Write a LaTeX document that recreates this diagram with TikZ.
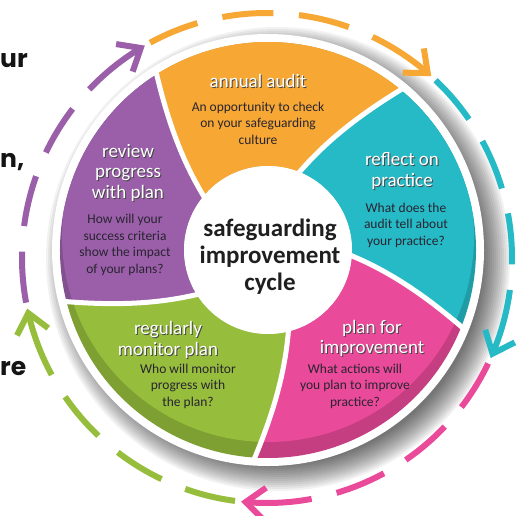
\documentclass[tikz,border=0pt]{standalone}
\usepackage{fontspec}
\setmainfont{Carlito}
\newfontfamily\popp{Poppins}
\definecolor{cOr}{RGB}{246,167,52}
\definecolor{cPu}{RGB}{155,95,170}
\definecolor{cCy}{RGB}{38,186,198}
\definecolor{cPi}{RGB}{234,74,154}
\definecolor{cGr}{RGB}{150,189,60}
\definecolor{bodyc}{RGB}{40,36,48}
\definecolor{shdc}{RGB}{70,70,70}
\newcommand\sh[1]{\makebox[0pt][l]{\kern1pt\raisebox{-1pt}{\textcolor{shdc}{#1}}}#1}
\newcommand\segpath[2]{({#1+17}:84) .. controls ({#1+12}:125) and ({#1+5.5}:166) .. (#1:208)
  arc[start angle=#1, end angle=#2, radius=208]
  .. controls ({#2+5.5}:166) and ({#2+12}:125) .. ({#2+17}:84)
  arc[start angle={#2+17}, end angle={#1+17}, radius=84] -- cycle}
\begin{document}
\begin{tikzpicture}[x=1pt,y=1pt,
  head/.style={font=\fontsize{19}{20.5}\selectfont, align=center, text=white, inner sep=0},
  body/.style={font=\fontsize{13.5}{16.5}\selectfont, align=center, text=bodyc, inner sep=0},
  frag/.style={font=\popp\bfseries\fontsize{25}{27}\selectfont, text=black!92, inner sep=0, anchor=base west},
  dashpiece/.style={line width=6pt, line cap=butt},
  gap/.style={white, line width=5pt}]
\useasboundingbox (0,0) rectangle (526,515);
\fill[white] (0,0) rectangle (526,515);

% left text fragments
\node[frag] (f1) at (0,447) {ur};
\node[frag] (f2) at (0,348) {n,};
\node[frag] (f3) at (0,140) {re};

% shadow of the wheel
\foreach \r in {206,208,...,232}
  \fill[black, opacity=0.05] (278,256) circle (\r);
\fill[white] (268,265) circle (216);

% segments
\begin{scope}[shift={(268,265)}]
  \foreach \a/\b/\c in {122/50/cOr, 50/-22/cCy, -22/-94/cPi, -94/-166/cGr, -166/-238/cPu} {
    \begin{scope}
      \clip \segpath{\a}{\b};
      \fill[\c!84!black] (0,0) circle (212);
      \fill[\c] (0,14) circle (206);
    \end{scope}
  }
  \foreach \a in {122,50,-22,-94,-166}
    \draw[gap] ({\a+19}:80) .. controls ({\a+12}:125) and ({\a+5.5}:166) .. (\a:212);
  \fill[white] (0,0) circle (84);
\end{scope}

% dashed ring with arrows
\begin{scope}[shift={(267,257)}]
  \foreach \t/\c in {121/cPu, 49/cOr, -23/cCy, -95/cPi, -167/cGr} {
    \pgfmathsetmacro\s{\t+69.5}
    \draw[dashpiece, \c] (\s:245) arc[start angle=\s, end angle=\s-12, radius=245];
    \draw[dashpiece, \c] (\s-18:245) arc[start angle=\s-18, end angle=\s-30, radius=245];
    \draw[dashpiece, \c] (\s-36:245) arc[start angle=\s-36, end angle=\s-48, radius=245];
    \draw[dashpiece, \c] (\s-54:245) arc[start angle=\s-54, end angle=\t, radius=245];
    \draw[dashpiece, \c, line join=miter] (\t:245) ++({\t+130}:25) -- (\t:245) -- ++({\t+50}:25);
  }
\end{scope}

% headings
\node[head] (h1) at (258,434) {\sh{annual audit}};
\node[head] (h2) at (128,342) {\sh{review}\\\sh{progress}\\\sh{with plan}};
\node[head] (h3) at (402,343.5) {\sh{reflect on}\\\sh{practice}};
\node[head] (h4) at (372,176) {\sh{plan for}\\\sh{improvement}};
\node[head] (h5) at (168,174.5) {\sh{regularly}\\\sh{monitor plan}};

% body texts
\node[body] (b1) at (258,392) {An opportunity to check\\on your safeguarding\\culture};
\node[body] (b2) at (125,270) {How will your\\success criteria\\show the impact\\of your plans?};
\node[body] (b3) at (406,290) {What does the\\audit tell about\\your practice?};
\node[body] (b4) at (355,129) {What actions will\\you plan to improve\\practice?};
\node[body] (b5) at (188,129) {Who will monitor\\progress with\\the plan?};

% centre
\node[font=\bfseries\fontsize{25}{27}\selectfont, align=center, text=black!88, inner sep=0] (ctr) at (270,258)
  {safeguarding\\improvement\\cycle};
\end{tikzpicture}
\end{document}
